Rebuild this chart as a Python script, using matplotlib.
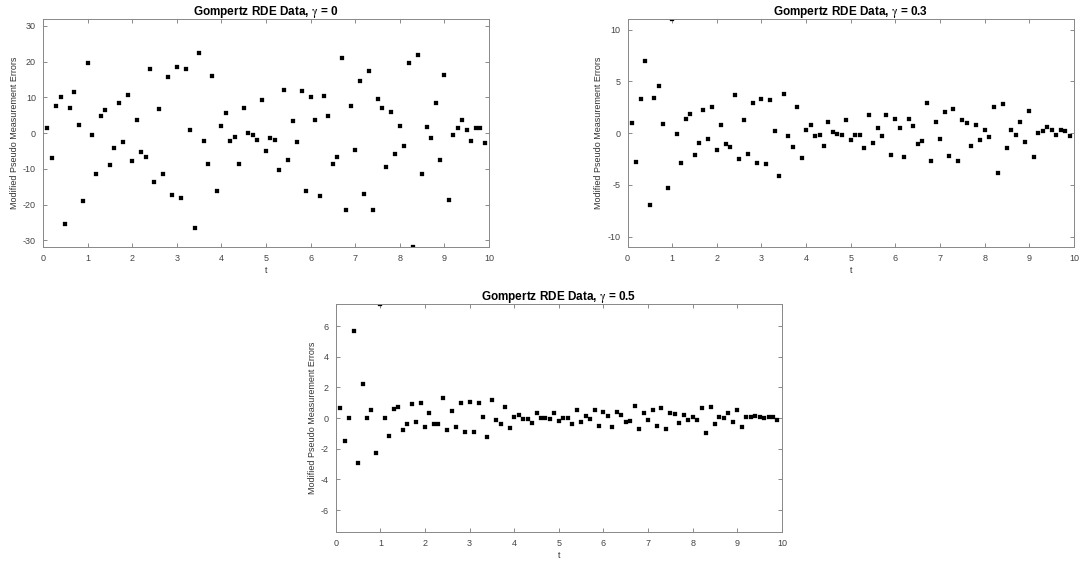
import matplotlib.pyplot as plt
import numpy as np

plt.rcParams["font.family"] = ["Liberation Sans", "DejaVu Sans"]
plt.rcParams["mathtext.fontset"] = "stix"
plt.rcParams["axes.unicode_minus"] = False

t = np.round(np.arange(1, 100) * 0.1, 1)

err_g0 = [
    1.4, -7.1, 7.5, 10.0, -25.5, 7.1, 11.6, 2.4, -19.0, 19.7,
    -0.4, -11.4, 4.8, 6.5, -8.9, -4.3, 8.5, -2.5, 10.6, -7.8,
    3.8, -5.4, -6.6, 18.0, -13.8, 6.8, -11.4, 15.7, -17.3, 18.6,
    -18.1, 18.0, 0.8, -26.5, 22.5, -2.2, -8.6, 16.0, -16.1, 2.1,
    5.5, -2.2, -1.2, -8.6, 7.1, 0.0, -0.6, -1.8, 9.3, -5.0,
    -1.4, -1.8, -10.4, 12.2, -7.4, 3.5, -2.6, 11.8, -16.1, 10.0,
    3.6, -17.7, 10.4, 4.9, -8.6, -6.7, 21.1, -21.4, 7.5, -4.8,
    14.7, -17.1, 17.5, -21.4, 9.6, 7.1, -9.4, 5.9, -5.8, 1.9,
    -3.6, 19.6, -31.9, 21.9, -11.4, 1.7, -1.5, 8.5, -7.6, 16.2,
    -18.6, -0.4, 1.4, 3.8, 1.0, -2.1, 1.4, 1.5, -2.9,
]

err_g03 = [
    0.93, -2.8, 3.3, 7.0, -6.9, 3.4, 4.5, 0.9, -5.3, 11.0,
    -0.1, -2.9, 1.4, 1.8, -2.1, -1.0, 2.2, -0.6, 2.5, -1.6,
    0.8, -1.1, -1.3, 3.7, -2.5, 1.3, -2.0, 2.9, -2.9, 3.3,
    -3.0, 3.2, 0.2, -4.1, 3.8, -0.3, -1.3, 2.5, -2.4, 0.3,
    0.8, -0.3, -0.2, -1.2, 1.1, 0.1, -0.1, -0.2, 1.3, -0.7,
    -0.2, -0.2, -1.4, 1.7, -1.0, 0.5, -0.3, 1.7, -2.1, 1.4,
    0.5, -2.3, 1.4, 0.7, -1.1, -0.8, 2.9, -2.7, 1.1, -0.6,
    2.0, -2.2, 2.3, -2.7, 1.3, 1.0, -1.2, 0.8, -0.7, 0.3,
    -0.4, 2.5, -3.9, 2.8, -1.4, 0.3, -0.2, 1.1, -0.9, 2.1,
    -2.3, 0.0, 0.2, 0.6, 0.3, -0.2, 0.3, 0.2, -0.3,
]

err_g05 = [
    0.64, -1.5, 0.0, 5.65, -2.9, 2.2, 0.0, 0.5, -2.3, 7.45,
    0.0, -1.2, 0.6, 0.7, -0.8, -0.4, 0.9, -0.25, 1.0, -0.6,
    0.3, -0.4, -0.4, 1.3, -0.8, 0.45, -0.6, 1.0, -0.9, 1.05,
    -0.9, 1.0, 0.05, -1.25, 1.15, -0.15, -0.4, 0.75, -0.65, 0.1,
    0.2, -0.05, -0.05, -0.35, 0.3, 0.03, 0.0, -0.03, 0.35, -0.18,
    -0.02, -0.02, -0.4, 0.5, -0.25, 0.13, -0.07, 0.5, -0.53, 0.4,
    0.13, -0.6, 0.4, 0.18, -0.25, -0.22, 0.8, -0.7, 0.3, -0.15,
    0.55, -0.53, 0.65, -0.68, 0.3, 0.25, -0.3, 0.22, -0.15, 0.1,
    -0.1, 0.65, -1.0, 0.72, -0.38, 0.05, -0.02, 0.3, -0.25, 0.55,
    -0.57, 0.05, 0.08, 0.13, 0.08, -0.02, 0.07, 0.08, -0.1,
]

panels = [
    ("0", err_g0, [-30, -20, -10, 0, 10, 20, 30], [0.0397, 0.562, 0.4123, 0.404]),
    ("0.3", err_g03, [-10, -5, 0, 5, 10], [0.580, 0.562, 0.4126, 0.404]),
    ("0.5", err_g05, [-6, -4, -2, 0, 2, 4, 6], [0.3103, 0.0562, 0.4124, 0.405]),
]

fig = plt.figure(figsize=(10.82, 5.64), dpi=100)
for gamma, err, yticks, rect in panels:
    ax = fig.add_axes(rect)
    ax.plot(t, err, "s", color="black", markersize=2.2, markeredgewidth=0.2)
    lim = max(abs(v) for v in err)
    ax.set_xlim(0, 10)
    ax.set_ylim(-lim, lim)
    ax.set_xticks(range(0, 11))
    ax.set_yticks(yticks)
    ax.tick_params(direction="in", length=3, width=0.6, top=True, right=True,
                   labelsize=6.5, labelcolor="#444444", color="#777777", pad=5)
    for sp in ax.spines.values():
        sp.set_color("#888888")
        sp.set_linewidth(0.7)
    ax.set_title(r"Gompertz RDE Data, $\mathrm{\gamma}$ = " + gamma, fontsize=8.5,
                 fontweight="bold", pad=3)
    ax.set_xlabel("t", fontsize=6.5, color="#333333", labelpad=2)
    ax.set_ylabel("Modified Pseudo Measurement Errors", fontsize=6.5,
                  color="#333333", labelpad=3)

fig.savefig("out.png", dpi=100)
